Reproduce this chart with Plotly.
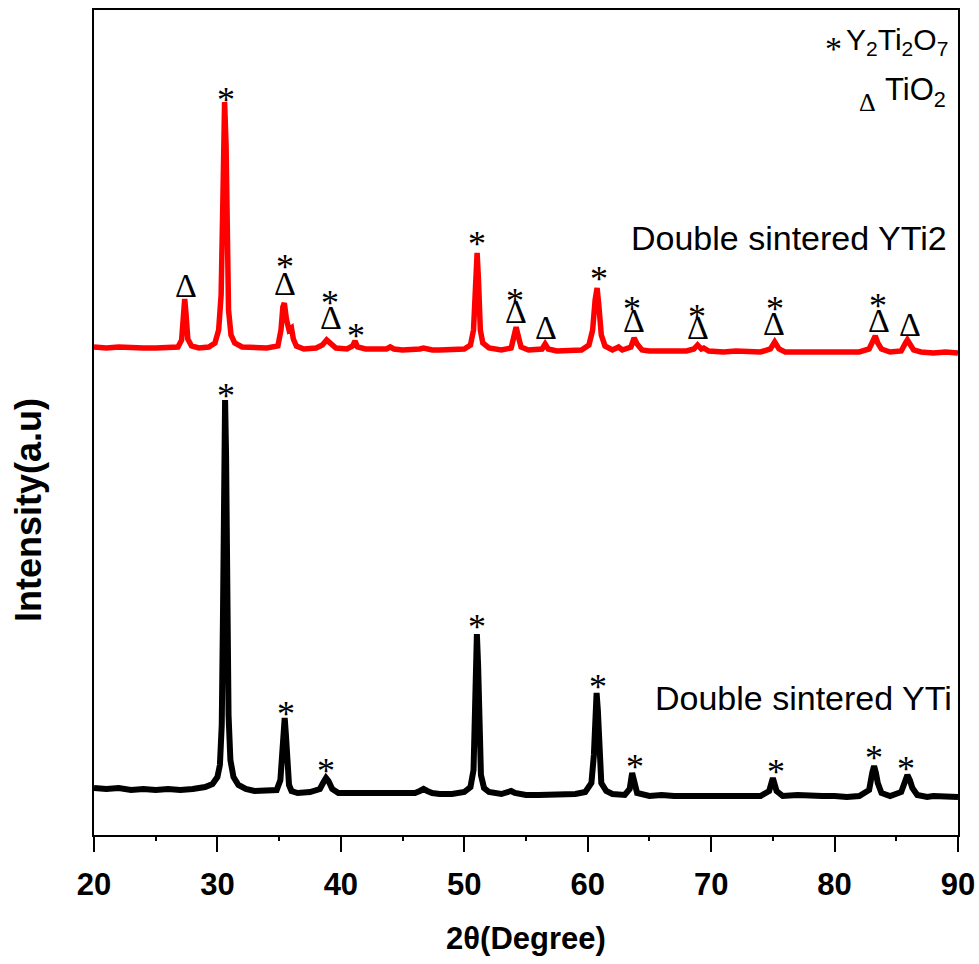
import plotly.graph_objects as go

# ---- Data (2θ in degrees, intensity in arbitrary units) ----
yti2_2theta = [20.0, 21, 22, 23, 24, 25, 26, 26.8, 27.1, 27.25, 27.35, 27.45, 27.6, 27.9, 28.5, 29.3,
               29.8, 30.1, 30.3, 30.45, 30.58, 30.7, 30.8, 30.9, 31.1, 31.4, 32, 33, 34, 34.9, 35.15,
               35.3, 35.42, 35.6, 35.8, 36.0, 36.15, 36.4, 37, 38, 38.5, 38.85, 39.2, 39.6, 40.5, 40.95,
               41.15, 41.35, 42, 43, 43.7, 44.0, 44.3, 45, 46, 46.4, 46.7, 47.0, 47.4, 48, 49, 50, 50.5, 50.75, 50.9,
               51.04, 51.15, 51.3, 51.5, 52, 53, 53.8, 54.05, 54.2, 54.35, 54.6, 55.2, 56.3, 56.55,
               56.8, 57.5, 58.5, 59.5, 60.1, 60.4, 60.6, 60.76, 60.9, 61.1, 61.4, 62, 62.5, 62.8, 63.5,
               63.76, 64.0, 64.4, 65, 66, 67, 68, 68.6, 68.9, 69.2, 69.4, 69.8, 71, 72, 73, 74, 74.8,
               75.15, 75.5, 76, 77, 78, 79, 80, 81, 82, 82.8, 83.1, 83.3, 83.5, 83.8, 84.5, 85.4,
               85.75, 85.9, 86.1, 86.4, 87, 88, 89, 90]
yti2_intensity = [488, 487, 488, 487, 487, 487, 487, 488, 495, 520, 536, 522, 496, 489, 487, 488,
                  492, 505, 540, 640, 733, 690, 580, 525, 500, 492, 488, 487, 487, 489, 505,
                  528, 532, 515, 505, 507, 496, 489, 486, 487, 490, 495, 491, 487, 486, 489,
                  494, 488, 486, 486, 486, 488, 486, 485, 485, 486, 487, 486, 485, 485, 485, 486, 490, 505, 545,
                  582, 555, 505, 492, 487, 485, 487, 500, 508, 500, 488, 485, 486, 491,
                  486, 484, 484, 485, 490, 505, 535, 547, 530, 500, 489, 485, 488, 485, 488,
                  497, 491, 485, 484, 484, 484, 484, 486, 490, 486, 487, 484, 483, 484, 483, 483, 486,
                  493, 486, 483, 483, 483, 483, 483, 483, 483, 486, 493, 499, 492, 486, 483, 484,
                  492, 495, 491, 485, 483, 482, 483, 482]

yti_2theta = [20.0, 21, 22, 23, 24, 25, 26, 27, 28, 29, 29.6, 30.0, 30.2, 30.35, 30.45, 30.55, 30.62,
              30.7, 30.8, 30.9, 31.05, 31.3, 31.7, 32.3, 33, 34, 34.8, 35.1, 35.25, 35.35, 35.45,
              35.55, 35.65, 35.8, 36.0, 36.5, 37.5, 38.3, 38.6, 38.8, 39.0, 39.3, 39.8, 41, 42, 43,
              44, 45, 46.0, 46.4, 46.7, 47.0, 47.4, 48, 49, 50, 50.5, 50.75, 50.9, 51.02, 51.12, 51.22, 51.35,
              51.6, 52, 53, 53.5, 53.8, 54.1, 54.5, 55, 56, 57, 58, 59, 59.8, 60.3, 60.5, 60.62, 60.72, 60.82,
              60.92, 61.1, 61.5, 62, 63, 63.4, 63.6, 63.75, 64, 65, 66, 67, 68, 69, 70, 71, 72, 73,
              74, 74.7, 75.0, 75.3, 75.8, 77, 78, 79, 80, 81, 82, 82.8, 83.05, 83.2, 83.35, 83.5,
              83.8, 84.5, 85.4, 85.7, 85.9, 86.1, 86.3, 86.7, 87.5, 88, 89, 90]
yti_intensity = [47, 46, 47, 45, 46, 45, 46, 45, 46, 48, 51, 58, 70, 110, 220, 380, 435,
                 380, 220, 120, 75, 58, 50, 46, 44, 44, 45, 55, 85, 112, 117,
                 100, 68, 50, 44, 42, 43, 46, 53, 57, 54, 46, 42, 42, 41, 42,
                 41, 41, 42, 44, 46, 44, 42, 41, 41, 43, 48, 65, 130, 201, 170, 100, 60,
                 47, 43, 41, 42, 44, 42, 41, 40, 40, 40, 40, 41, 43, 52, 80, 130, 142, 125,
                 80, 52, 44, 41, 40, 46, 62, 55, 42, 39, 40, 39, 39, 40, 39, 39, 39, 39,
                 39, 44, 57, 44, 39, 40, 39, 39, 39, 38, 39, 45, 62, 69, 62, 52,
                 42, 39, 43, 55, 60, 55, 47, 40, 38, 39, 38, 38]

# Phase markers (glyph centres)
yti2_star_x = [30.69, 35.47, 39.12, 41.23, 51.03, 54.11, 60.91, 63.59, 68.85, 75.17, 83.52]
yti2_star_y = [739, 572, 536, 503, 595, 538, 560, 530, 522, 530, 533]
yti2_delta_x = [27.45, 35.47, 39.20, 54.19, 56.62, 63.75, 68.93, 75.09, 83.60, 86.11]
yti2_delta_y = [547, 549, 515, 521, 505, 512, 505, 509, 512, 508]
yti_star_x = [30.69, 35.56, 38.80, 51.03, 60.83, 63.83, 75.25, 83.19, 85.79]
yti_star_y = [443, 125, 68, 212, 152, 72, 67, 81, 70]

x_ticks = [20, 30, 40, 50, 60, 70, 80, 90]

NARROW = "Liberation Sans Narrow, Arial Narrow, Liberation Sans, Arial, sans-serif"
SANS = "Liberation Sans, Arial, sans-serif"
SERIF = "Liberation Serif, Times New Roman, serif"

fig = go.Figure()
fig.add_trace(go.Scatter(x=yti2_2theta, y=yti2_intensity, mode="lines", name="Double sintered YTi2",
                         line=dict(color="#ff0000", width=5.5), showlegend=False))
fig.add_trace(go.Scatter(x=yti_2theta, y=yti_intensity, mode="lines", name="Double sintered YTi",
                         line=dict(color="#000000", width=6), showlegend=False))

STAR_SHIFT = 7
fig.add_trace(go.Scatter(x=yti2_star_x, y=[v - STAR_SHIFT for v in yti2_star_y], mode="text", text=["*"] * len(yti2_star_x),
                         textfont=dict(family=SERIF, size=36, color="black"), showlegend=False,
                         name="Y2Ti2O7 (YTi2)"))
fig.add_trace(go.Scatter(x=yti2_delta_x, y=yti2_delta_y, mode="text", text=["Δ"] * len(yti2_delta_x),
                         textfont=dict(family=SERIF, size=34, color="black"), showlegend=False,
                         name="TiO2 (YTi2)"))
fig.add_trace(go.Scatter(x=yti_star_x, y=[v - STAR_SHIFT for v in yti_star_y], mode="text", text=["*"] * len(yti_star_x),
                         textfont=dict(family=SERIF, size=36, color="black"), showlegend=False,
                         name="Y2Ti2O7 (YTi)"))

def px_x(p):
    return (p - 94) / 864.0

def px_y(p):
    return (835 - p) / 825.0

annotations = [
    dict(text="Double sintered YTi2", x=px_x(949), y=px_y(238), xanchor="right", yanchor="middle",
         font=dict(family=NARROW, size=34, color="black")),
    dict(text="Double sintered YTi", x=px_x(954), y=px_y(698), xanchor="right", yanchor="middle",
         font=dict(family=NARROW, size=34, color="black")),
    dict(text="Y<sub>2</sub>Ti<sub>2</sub>O<sub>7</sub>", x=px_x(950), y=px_y(41), xanchor="right", yanchor="middle",
         font=dict(family=NARROW, size=30, color="black")),
    dict(text="*", x=px_x(833), y=px_y(49), xanchor="center", yanchor="middle",
         font=dict(family=SERIF, size=34, color="black")),
    dict(text="TiO<sub>2</sub>", x=px_x(948), y=px_y(92), xanchor="right", yanchor="middle",
         font=dict(family=NARROW, size=31, color="black")),
    dict(text="Δ", x=px_x(867), y=px_y(102), xanchor="center", yanchor="middle",
         font=dict(family=SERIF, size=26, color="black")),
    dict(text="<b>Intensity(a.u)</b>", x=px_x(28), y=px_y(510), xanchor="center", yanchor="middle",
         textangle=-90, font=dict(family=SANS, size=36, color="black")),
]
for a in annotations:
    a.update(xref="paper", yref="paper", showarrow=False)

fig.update_layout(
    width=979, height=964,
    margin=dict(l=94, r=21, t=10, b=129),
    paper_bgcolor="white", plot_bgcolor="white",
    annotations=annotations,
    xaxis=dict(range=[20, 90], tickvals=x_ticks, ticks="outside", ticklen=15, tickwidth=2,
               tickcolor="black", showline=True, linewidth=2, linecolor="black", mirror=True,
               showgrid=False, zeroline=False, ticklabelstandoff=6, automargin=False,
               minor=dict(ticks="outside", ticklen=4, tickwidth=1.5, tickcolor="black", dtick=5, tick0=25, showgrid=False),
               tickfont=dict(family=NARROW, size=31, color="black", weight="bold"),
               title=dict(text="2θ(Degree)", standoff=26,
                          font=dict(family=NARROW, size=31, color="black", weight="bold"))),
    yaxis=dict(range=[0, 825], showticklabels=False, ticks="", showline=True, linewidth=2,
               linecolor="black", mirror=True, showgrid=False, zeroline=False, automargin=False),
)

fig.write_html("out.html")
